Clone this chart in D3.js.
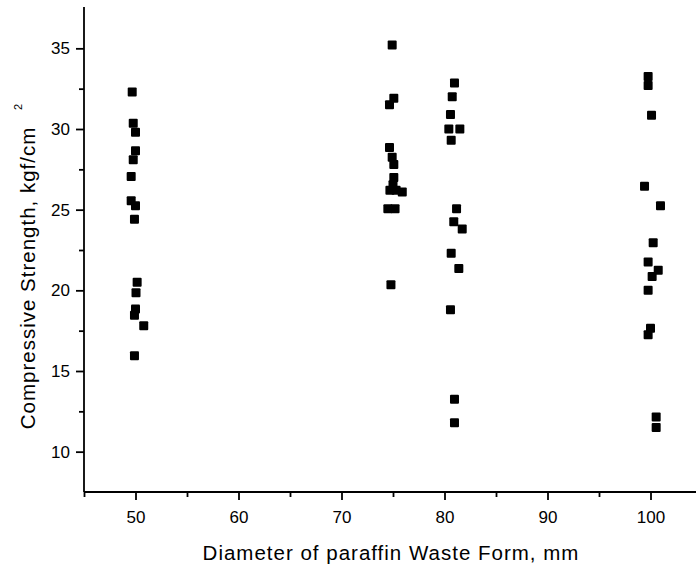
<!DOCTYPE html>
<html>
<head>
<meta charset="utf-8">
<script src="https://cdn.jsdelivr.net/npm/d3@7"></script>
<style>
  body { margin: 0; background: #fff; }
  text { font-family: "Liberation Sans", Arial, sans-serif; fill: #000; }
</style>
</head>
<body>
<svg id="chart" width="696" height="567"></svg>
<script>
// diameter groups (points are jittered a little around each diameter)
const x50 = [49.68, 49.78, 50.0, 50.0, 49.78, 49.58, 49.58, 50.0, 49.9, 50.16, 50.05, 50.0, 49.9, 50.8, 49.9];
const y50 = [32.3, 30.35, 29.8, 28.65, 28.1, 27.05, 25.55, 25.25, 24.4, 20.5, 19.85, 18.85, 18.45, 17.8, 15.95];

const x75 = [74.92, 74.66, 75.08, 74.66, 74.92, 75.08, 75.08, 74.7, 75.0, 75.3, 75.9, 74.5, 75.2, 74.8];
const y75 = [35.2, 31.5, 31.9, 28.85, 28.25, 27.8, 27.0, 26.2, 26.55, 26.2, 26.1, 25.05, 25.05, 20.35];

const x80 = [80.97, 80.75, 80.58, 80.42, 81.49, 80.65, 81.17, 80.9, 81.72, 80.65, 81.39, 80.58, 80.97, 80.97];
const y80 = [32.85, 32.0, 30.9, 30.0, 30.0, 29.3, 25.05, 24.25, 23.8, 22.3, 21.35, 18.8, 13.25, 11.8];

const x100 = [99.77, 99.77, 100.1, 99.42, 100.97, 100.26, 99.77, 100.75, 100.16, 99.77, 100.0, 99.77, 100.55, 100.55];
const y100 = [33.25, 32.7, 30.85, 26.45, 25.25, 22.95, 21.75, 21.25, 20.85, 20.0, 17.65, 17.25, 12.15, 11.5];

const xMajor = [50, 60, 70, 80, 90, 100];
const xMinor = [45, 55, 65, 75, 85, 95];
const yMajor = [10, 15, 20, 25, 30, 35];
const yMinor = [12.5, 17.5, 22.5, 27.5, 32.5];

const points = [[x50, y50], [x75, y75], [x80, y80], [x100, y100]]
  .flatMap(([xs, ys]) => xs.map((x, i) => ({ x: x, y: ys[i] })));

const svg = d3.select('#chart');
const left = 84, bottom = 492;

const x = d3.scaleLinear().domain([45, 105]).range([left, left + 60 * 10.3]);
const y = d3.scaleLinear().domain([7.5, 37.5]).range([bottom, 8]);

// minor ticks first, then major ones with labels
svg.append('g')
  .attr('transform', `translate(0,${bottom})`)
  .call(d3.axisBottom(x).tickValues(xMinor).tickSize(5).tickSizeOuter(0).tickFormat(''))
  .call(g => g.select('.domain').remove());

svg.append('g')
  .attr('transform', `translate(0,${bottom})`)
  .call(d3.axisBottom(x).tickValues(xMajor).tickSize(8).tickPadding(11).tickSizeOuter(0))
  .call(g => g.select('.domain').attr('d', `M${left},0H696`));

svg.append('g')
  .attr('transform', `translate(${left},0)`)
  .call(d3.axisLeft(y).tickValues(yMinor).tickSize(5).tickSizeOuter(0).tickFormat(''))
  .call(g => g.select('.domain').remove());

svg.append('g')
  .attr('transform', `translate(${left},0)`)
  .call(d3.axisLeft(y).tickValues(yMajor).tickSize(8).tickPadding(6).tickSizeOuter(0))
  .call(g => g.select('.domain').attr('d', `M0,${bottom}V7`));

svg.selectAll('.domain, .tick line')
  .attr('stroke', '#000')
  .attr('stroke-width', 1.8);
svg.selectAll('.tick text')
  .attr('font-size', 17)
  .attr('font-family', '"Liberation Sans", Arial, sans-serif')
  .attr('fill', '#000');

// markers
const size = 9;
svg.append('g')
  .selectAll('rect')
  .data(points)
  .join('rect')
  .attr('x', d => x(d.x) - size / 2)
  .attr('y', d => y(d.y) - size / 2)
  .attr('width', size)
  .attr('height', size)
  .attr('rx', 1)
  .attr('fill', '#000');

// axis titles
svg.append('text')
  .attr('x', 391)
  .attr('y', 560)
  .attr('text-anchor', 'middle')
  .attr('font-size', 20.5)
  .attr('letter-spacing', 1)
  .text('Diameter of paraffin Waste Form, mm');

svg.append('text')
  .attr('transform', 'translate(35,278) rotate(-90)')
  .attr('text-anchor', 'middle')
  .attr('font-size', 20.5)
  .attr('letter-spacing', 1)
  .text('Compressive Strength, kgf/cm');

svg.append('text')
  .attr('transform', 'translate(22,107) rotate(-90)')
  .attr('text-anchor', 'middle')
  .attr('font-size', 11)
  .text('2');
</script>
</body>
</html>
